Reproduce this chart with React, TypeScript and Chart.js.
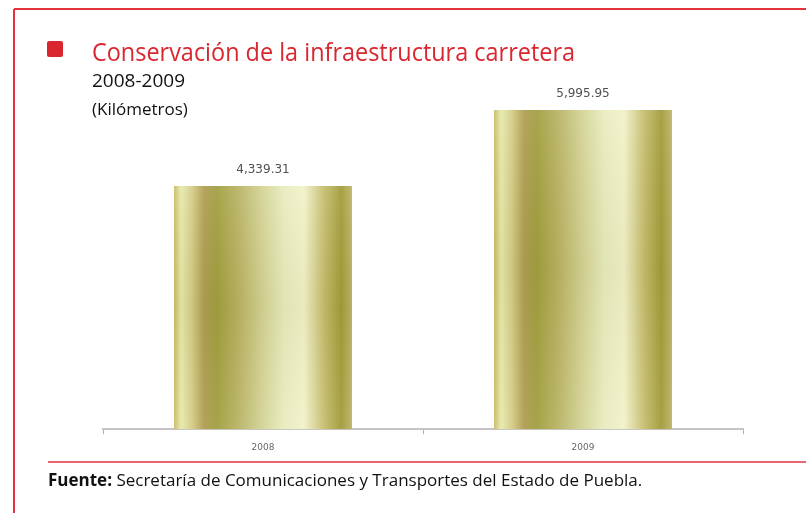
import React, { useEffect, useRef } from "react";
import { Chart, registerables } from "chart.js";

Chart.register(...registerables);

const CATEGORIES = ["2008", "2009"];
const VALUES = [4339.31, 5995.95];
const TITLE = "Conservación de la infraestructura carretera";
const SUBTITLE = "2008-2009";
const UNITS = "(Kilómetros)";
const SOURCE_BOLD = "Fuente:";
const SOURCE_TEXT = " Secretaría de Comunicaciones y Transportes del Estado de Puebla.";

const Y_MIN = -957;
const Y_MAX = 7000;

const RED = "#d9262f";

const fmt = (v: number) =>
  v.toLocaleString("en-US", { minimumFractionDigits: 2, maximumFractionDigits: 2 });

const GRAD_STOPS: [number, string][] = [
  [0, "#c8ba64"],
  [0.04, "#e6eaae"],
  [0.1, "#d4cc88"],
  [0.17, "#ae9c52"],
  [0.24, "#a09e40"],
  [0.36, "#b8b264"],
  [0.5, "#d4d498"],
  [0.62, "#e8ecc0"],
  [0.73, "#f2f2cc"],
  [0.84, "#c6be70"],
  [0.94, "#a29a3a"],
  [1, "#bcb468"],
];

const decor = {
  id: "decor",
  beforeDraw(chart: any) {
    const ctx = chart.ctx;
    ctx.save();
    ctx.fillStyle = "#ffffff";
    ctx.fillRect(0, 0, chart.width, chart.height);
    ctx.restore();
  },
  afterDatasetsDraw(chart: any) {
    const ctx = chart.ctx;
    const meta = chart.getDatasetMeta(0);
    ctx.save();
    meta.data.forEach((bar: any, i: number) => {
      const half = bar.width / 2;
      const g = ctx.createLinearGradient(0, bar.y, 0, bar.base);
      g.addColorStop(0, "rgba(255,255,230,0.08)");
      g.addColorStop(0.5, "rgba(110,95,0,0.06)");
      g.addColorStop(1, "rgba(255,255,230,0.06)");
      ctx.fillStyle = g;
      ctx.fillRect(bar.x - half, bar.y, bar.width, bar.base - bar.y);
      ctx.fillStyle = "#505050";
      ctx.font = "12px 'DejaVu Sans'";
      ctx.textAlign = "center";
      ctx.textBaseline = "middle";
      ctx.fillText(fmt(VALUES[i]), bar.x, bar.y - 16);
    });
    ctx.restore();
  },
  afterDraw(chart: any) {
    const ctx = chart.ctx;
    ctx.save();
    ctx.strokeStyle = "#e3333c";
    ctx.lineWidth = 2;
    ctx.beginPath();
    ctx.moveTo(14, 9);
    ctx.lineTo(806, 9);
    ctx.moveTo(14, 9);
    ctx.lineTo(14, 513);
    ctx.stroke();
    ctx.lineWidth = 1.5;
    ctx.beginPath();
    ctx.moveTo(48, 462);
    ctx.lineTo(806, 462);
    ctx.stroke();

    ctx.fillStyle = RED;
    ctx.beginPath();
    (ctx as any).roundRect(47, 41, 16, 16, 2);
    ctx.fill();

    ctx.textAlign = "left";
    ctx.textBaseline = "alphabetic";
    ctx.fillStyle = RED;
    ctx.font = "26px 'Open Sans'";
    ctx.fillText(TITLE, 92, 61, 483);

    ctx.fillStyle = "#111111";
    ctx.font = "19px 'Open Sans'";
    ctx.fillText(SUBTITLE, 92, 87, 93);
    ctx.font = "17px 'Open Sans'";
    ctx.fillText(UNITS, 92, 115, 106);

    ctx.font = "bold 17px 'Open Sans'";
    ctx.fillText(SOURCE_BOLD, 48, 486, 66);
    const w = Math.min(ctx.measureText(SOURCE_BOLD).width, 66);
    ctx.font = "17px 'Open Sans'";
    ctx.fillText(SOURCE_TEXT, 48 + w, 486, 650 - 48 - w);
    ctx.restore();
  },
};

export default function App() {
  const ref = useRef<HTMLCanvasElement | null>(null);
  useEffect(() => {
    if (!ref.current) return;
    const chart = new Chart(ref.current, {
      type: "bar",
      data: {
        labels: CATEGORIES,
        datasets: [
          {
            data: VALUES,
            base: Y_MIN,
            barPercentage: 0.556,
            categoryPercentage: 1,
            borderWidth: 0,
            backgroundColor: (c: any) => {
              const ch = c.chart;
              const xs = ch.scales?.x;
              if (!xs || !ch.chartArea) return "#c8c070";
              const center = xs.getPixelForValue(c.dataIndex);
              const half = ((xs.width / CATEGORIES.length) * 0.556) / 2;
              const g = ch.ctx.createLinearGradient(center - half, 0, center + half, 0);
              GRAD_STOPS.forEach(([o, col]) => g.addColorStop(o, col));
              return g;
            },
          } as any,
        ],
      },
      options: {
        responsive: false,
        animation: false,
        devicePixelRatio: 1,
        layout: { padding: { left: 103, right: 63, top: 64, bottom: 52 } },
        plugins: { legend: { display: false }, tooltip: { enabled: false }, title: { display: false } },
        scales: {
          y: { display: false, min: Y_MIN, max: Y_MAX },
          x: {
            offset: true,
            border: { display: true, color: "#c4c4c4", width: 2 },
            grid: {
              offset: true,
              drawOnChartArea: false,
              drawTicks: true,
              tickLength: 5,
              color: "#b0b0b0",
              lineWidth: 1,
            },
            ticks: { color: "#666666", font: { size: 9, family: "'DejaVu Sans'" }, padding: 8 },
          },
        },
      },
      plugins: [decor],
    });
    return () => chart.destroy();
  }, []);
  return (
    <div style={{ position: "absolute", left: 0, top: 0, width: 806, height: 513 }}>
      <canvas ref={ref} width={806} height={513} />
    </div>
  );
}
